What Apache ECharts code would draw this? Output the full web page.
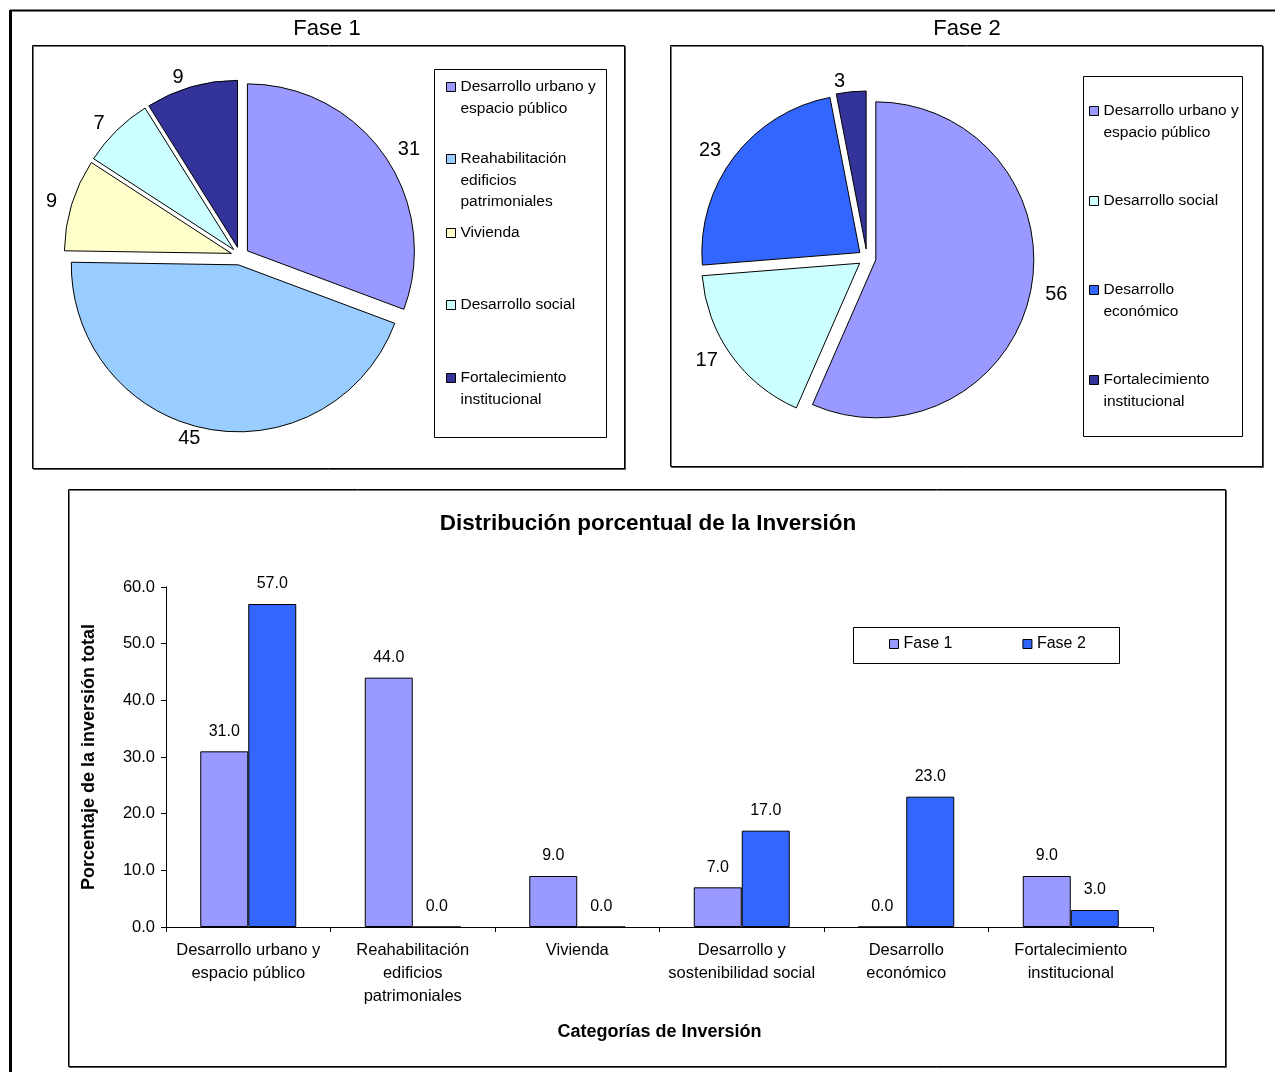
<!DOCTYPE html>
<html>
<head>
<meta charset="utf-8">
<script src="https://cdn.jsdelivr.net/npm/echarts@6/dist/echarts.min.js"></script>
<style>
  html, body { margin: 0; padding: 0; background: #fff; }
  #chart { width: 1275px; height: 1072px; }
</style>
</head>
<body>
<div id="chart"></div>
<script>
// --- data ---
const fase1Names = ["Desarrollo urbano y espacio público", "Reahabilitación edificios patrimoniales", "Vivienda", "Desarrollo social", "Fortalecimiento institucional"];
const fase1Values = [31, 45, 9, 7, 9];
const fase2Names = ["Desarrollo urbano y espacio público", "Desarrollo social", "Desarrollo económico", "Fortalecimiento institucional"];
const fase2Values = [56, 17, 23, 3];

const barCategories = ["Desarrollo urbano y\nespacio público", "Reahabilitación\nedificios\npatrimoniales", "Vivienda", "Desarrollo y\nsostenibilidad social", "Desarrollo\neconómico", "Fortalecimiento\ninstitucional"];
const barFase1 = [31, 44, 9, 7, 0, 9];
const barFase2 = [57, 0, 0, 17, 23, 3];
const yTicks = [0, 60, 10]; // min, max, interval

// legend wording (wrapped like the original)
const legendLines = {
  "Desarrollo urbano y espacio público": ["Desarrollo urbano y", "espacio público"],
  "Reahabilitación edificios patrimoniales": ["Reahabilitación", "edificios", "patrimoniales"],
  "Vivienda": ["Vivienda"],
  "Desarrollo social": ["Desarrollo social"],
  "Desarrollo económico": ["Desarrollo", "económico"],
  "Fortalecimiento institucional": ["Fortalecimiento", "institucional"]
};

const colorOf = {
  "Desarrollo urbano y espacio público": "#9999FF",
  "Reahabilitación edificios patrimoniales": "#99CCFF",
  "Vivienda": "#FFFFCC",
  "Desarrollo social": "#CCFFFF",
  "Desarrollo económico": "#3366FF",
  "Fortalecimiento institucional": "#333399"
};

const FONT = "'Liberation Sans', Arial, sans-serif";
const LH = 21.5;

const chart = echarts.init(document.getElementById("chart"), null, { renderer: "canvas" });

// one legend block per item so each sits where the original put it
function itemLegend(name, x, yFirstLine) {
  const lines = legendLines[name];
  const n = lines.length;
  const pad = new Array(n - 1).fill("");
  return {
    data: [name],
    left: x,
    top: yFirstLine + 2 - LH / 2 - (n - 1) * LH,
    padding: 0,
    itemWidth: 9,
    itemHeight: 9,
    itemGap: 0,
    selectedMode: false,
    icon: "rect",
    itemStyle: { borderColor: "#000", borderWidth: 1 },
    textStyle: { fontSize: 15.5, lineHeight: LH, color: "#000", fontFamily: FONT },
    formatter: () => pad.concat(lines).join("\n")
  };
}

const legend1Y = [85, 157, 231, 303, 376];
const legend2Y = [109, 199, 288, 378];

function frame(x1, y1, x2, y2) {
  return {
    type: "rect",
    z: -10,
    shape: { x: x1 + 0.5, y: y1 + 0.5, width: x2 - x1, height: y2 - y1 },
    style: { fill: "#fff", stroke: "#000", lineWidth: 1, shadowColor: "rgba(0,0,0,0.55)", shadowOffsetX: 1, shadowOffsetY: 1 }
  };
}
function box(x1, y1, x2, y2) {
  return {
    type: "rect",
    z: -5,
    shape: { x: x1 + 0.5, y: y1 + 0.5, width: x2 - x1, height: y2 - y1 },
    style: { fill: "#fff", stroke: "#000", lineWidth: 1 }
  };
}

function pieSeries(names, values, center, radius) {
  return {
    type: "pie",
    center: center,
    radius: radius,
    startAngle: 90,
    clockwise: true,
    selectedMode: "multiple",
    selectedOffset: 9,
    avoidLabelOverlap: false,
    animation: false,
    label: { show: true, position: "outside", formatter: "{c}", fontSize: 20, color: "#000", fontFamily: FONT },
    labelLine: { show: false, length: 10, length2: 0 },
    itemStyle: { borderColor: "#000", borderWidth: 1 },
    emphasis: { disabled: true },
    data: names.map((n, i) => ({ name: n, value: values[i], selected: true, itemStyle: { color: colorOf[n] } }))
  };
}

const option = {
  backgroundColor: "#fff",
  animation: false,
  textStyle: { fontFamily: FONT },
  title: [
    { text: "Fase 1", left: 322, top: 13, textAlign: "center", textStyle: { fontSize: 22, fontWeight: "normal", color: "#000", fontFamily: FONT } },
    { text: "Fase 2", left: 962, top: 13, textAlign: "center", textStyle: { fontSize: 22, fontWeight: "normal", color: "#000", fontFamily: FONT } },
    { text: "Distribución porcentual de la Inversión", left: 643, top: 507, textAlign: "center", textStyle: { fontSize: 22.5, fontWeight: "bold", color: "#000", fontFamily: FONT } }
  ],
  graphic: [
    { type: "line", z: -10, shape: { x1: 10, y1: 10.5, x2: 1275, y2: 10.5 }, style: { stroke: "#000", lineWidth: 2 } },
    { type: "line", z: -10, shape: { x1: 10.5, y1: 10, x2: 10.5, y2: 1072 }, style: { stroke: "#000", lineWidth: 3 } },
    frame(32, 45, 624, 468),
    frame(670, 45, 1262, 466),
    frame(68, 489, 1225, 1066),
    box(434, 69, 606, 437),
    box(1083, 76, 1242, 436),
    box(853, 627, 1119, 663)
  ],
  legend: [
    ...fase1Names.map((n, i) => itemLegend(n, 446, legend1Y[i])),
    ...fase2Names.map((n, i) => itemLegend(n, 1089, legend2Y[i])),
    {
      data: ["Fase 1", "Fase 2"],
      left: 889,
      top: 636,
      padding: 0,
      itemWidth: 9,
      itemHeight: 9,
      itemGap: 70,
      selectedMode: false,
      icon: "rect",
      itemStyle: { borderColor: "#000", borderWidth: 1 },
      textStyle: { fontSize: 16, color: "#000", fontFamily: FONT }
    }
  ],
  grid: { left: 166, right: 122, top: 587, bottom: 145, containLabel: false },
  xAxis: {
    type: "category",
    data: barCategories,
    name: "Categorías de Inversión",
    nameLocation: "middle",
    nameGap: 96,
    nameTextStyle: { fontSize: 18, fontWeight: "bold", color: "#000", fontFamily: FONT },
    axisLine: { lineStyle: { color: "#000", width: 1 } },
    axisTick: { show: true, length: 5, lineStyle: { color: "#000" } },
    axisLabel: { interval: 0, fontSize: 16.5, lineHeight: 23, color: "#000", margin: 12, fontFamily: FONT },
    splitLine: { show: false }
  },
  yAxis: {
    type: "value",
    min: yTicks[0],
    max: yTicks[1],
    interval: yTicks[2],
    name: "Porcentaje de la inversión total",
    nameLocation: "middle",
    nameRotate: 90,
    nameGap: 68,
    nameTextStyle: { fontSize: 18, fontWeight: "bold", color: "#000", fontFamily: FONT },
    axisLine: { show: true, lineStyle: { color: "#000", width: 1 } },
    axisTick: { show: true, length: 5, lineStyle: { color: "#000" } },
    axisLabel: { fontSize: 16.5, color: "#000", margin: 11, fontFamily: FONT, formatter: (v) => v.toFixed(1) },
    splitLine: { show: false }
  },
  series: [
    pieSeries(fase1Names, fase1Values, [240, 256], 167),
    pieSeries(fase2Names, fase2Values, [867, 258], 158),
    {
      name: "Fase 1",
      type: "bar",
      data: barFase1,
      barWidth: 48,
      barGap: "0%",
      itemStyle: { color: "#9999FF", borderColor: "#000", borderWidth: 1 },
      label: { show: true, position: "top", distance: 12, fontSize: 16, color: "#000", fontFamily: FONT, formatter: (p) => p.value.toFixed(1) }
    },
    {
      name: "Fase 2",
      type: "bar",
      data: barFase2,
      barWidth: 48,
      barGap: "0%",
      itemStyle: { color: "#3366FF", borderColor: "#000", borderWidth: 1 },
      label: { show: true, position: "top", distance: 12, fontSize: 16, color: "#000", fontFamily: FONT, formatter: (p) => p.value.toFixed(1) }
    }
  ]
};

chart.setOption(option);
</script>
</body>
</html>
